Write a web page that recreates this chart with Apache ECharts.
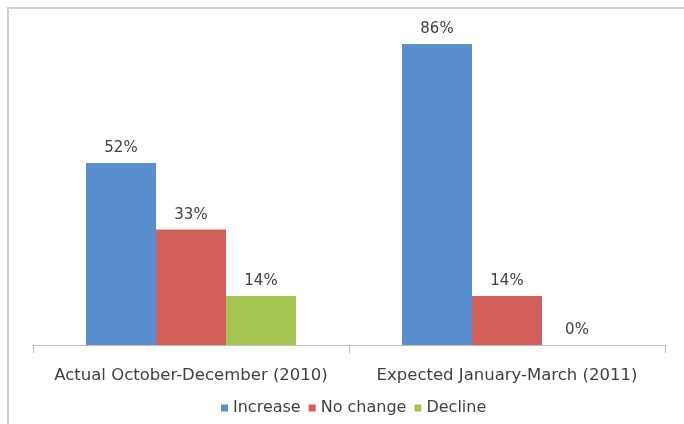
<!DOCTYPE html>
<html>
<head>
<meta charset="utf-8">
<script src="https://cdn.jsdelivr.net/npm/echarts@6/dist/echarts.min.js"></script>
<style>
html,body{margin:0;padding:0;background:#fff;}
#c{width:684px;height:424px;}
</style>
</head>
<body>
<div id="c"></div>
<script>
var categories = ['Actual October-December (2010)', 'Expected January-March (2011)'];
var seriesNames = ['Increase', 'No change', 'Decline'];
var increase = [52, 86];
var noChange = [33, 14];
var decline = [14, 0];
var colors = ['#5A8FCF', '#D35F5A', '#A3C451'];
var FONT = 'DejaVu Sans';

var chart = echarts.init(document.getElementById('c'), null, {renderer: 'canvas'});
var values = [increase, noChange, decline];
var series = seriesNames.map(function (n, i) {
  return {
    name: n,
    type: 'bar',
    data: values[i],
    barWidth: 70,
    barGap: '0%',
    itemStyle: {color: colors[i]},
    label: {
      show: true, position: 'top', distance: 7,
      formatter: '{c}%', color: '#404040', fontSize: 15, fontFamily: FONT
    }
  };
});

chart.setOption({
  animation: false,
  backgroundColor: '#fff',
  textStyle: {fontFamily: FONT},
  graphic: [{
    type: 'rect', shape: {x: 8, y: 8, width: 720, height: 460},
    style: {fill: 'none', stroke: '#cfcfcf', lineWidth: 2}, silent: true, z: -1
  }],
  grid: {left: 33, right: 19, top: 30, bottom: 79},
  legend: {
    data: seriesNames, bottom: 3, left: 216,
    icon: 'rect', itemWidth: 7, itemHeight: 7, itemGap: 8,
    textStyle: {color: '#404040', fontSize: 16, fontFamily: FONT}
  },
  xAxis: {
    type: 'category', data: categories,
    axisLine: {lineStyle: {color: '#bfbfbf', width: 1}},
    axisTick: {show: true, length: 8, lineStyle: {color: '#bfbfbf'}},
    axisLabel: {color: '#404040', fontSize: 16.5, margin: 22, interval: 0, fontFamily: FONT}
  },
  yAxis: {
    type: 'value', min: 0, max: 90,
    show: false, splitLine: {show: false}
  },
  series: series
});
</script>
</body>
</html>
